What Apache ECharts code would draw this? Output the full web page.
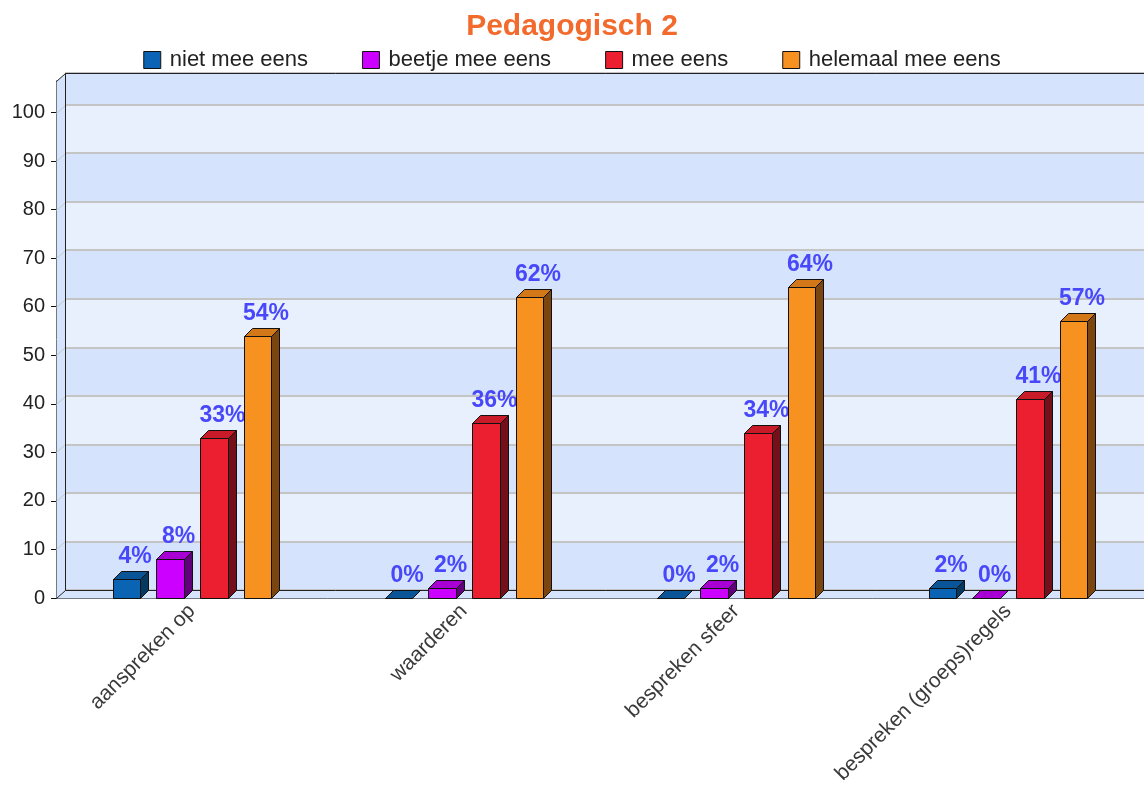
<!DOCTYPE html>
<html>
<head>
<meta charset="utf-8">
<script src="https://cdn.jsdelivr.net/npm/echarts@6/dist/echarts.min.js"></script>
<style>
  html, body { margin: 0; padding: 0; background: #fff; }
  #chart { width: 1144px; height: 794px; }
</style>
</head>
<body>
<div id="chart"></div>
<script>
const categories = ["aanspreken op", "waarderen", "bespreken sfeer", "bespreken (groeps)regels"];
const seriesNames = ["niet mee eens", "beetje mee eens", "mee eens", "helemaal mee eens"];
const nietMeeEens = [4, 0, 0, 2];
const beetjeMeeEens = [8, 2, 2, 0];
const meeEens = [33, 36, 34, 41];
const helemaalMeeEens = [54, 62, 64, 57];
const yTicks = [0, 10, 20, 30, 40, 50, 60, 70, 80, 90, 100];

const seriesValues = [nietMeeEens, beetjeMeeEens, meeEens, helemaalMeeEens];
// front, top, side colours per series
const palette = [
    { front: "#0b63b3", top: "#0a5598", side: "#06395f" },
    { front: "#cc00ff", top: "#a800d4", side: "#62007c" },
    { front: "#ec1f31", top: "#c81a29", side: "#73101a" },
    { front: "#f7911f", top: "#d27818", side: "#7a4511" }
];

const FONT = "Liberation Sans";
const DX = 9, DY = 8;       // wall depth
const BDX = 8, BDY = 8;     // bar depth
const Y_MAX = 106.5;

const chart = echarts.init(document.getElementById("chart"));

function renderWalls(params, api) {
    const cs = params.coordSys;
    const x = cs.x + 0.5, y = cs.y + 0.5, w = cs.width + 40, h = cs.height;
    const children = [
        { type: "polygon", shape: { points: [[x, y + h], [x + DX, y + h - DY], [x + DX, y - DY], [x, y]] },
          style: { fill: "#d5e4fc" } },
        { type: "polygon", shape: { points: [[x, y + h], [x + DX, y + h - DY], [x + w, y + h - DY], [x + w, y + h]] },
          style: { fill: "#d5e4fc" } }
    ];
    yTicks.forEach(v => {
        if (v === 0) return;
        const yy = Math.round(api.coord([0, v])[1]) + 0.5;
        children.push({ type: "line", shape: { x1: x, y1: yy, x2: x + DX, y2: yy - DY },
            style: { stroke: "#c8c8c8", lineWidth: 1 } });
    });
    const edges = [
        [x + DX, y - DY, x + DX, y + h - DY],
        [x + DX, y - DY, x + w, y - DY],
        [x + DX, y + h - DY, x + w, y + h - DY],
        [x, y, x + DX, y - DY],
        [x, y + h, x + DX, y + h - DY]
    ];
    edges.forEach(e => children.push({
        type: "line", shape: { x1: e[0], y1: e[1], x2: e[2], y2: e[3] },
        style: { stroke: "#222", lineWidth: 1 }
    }));
    return { type: "group", children };
}

function makeBarRenderer(k) {
    const c = palette[k];
    return function (params, api) {
        const cat = api.value(0), val = api.value(1);
        const band = api.size([1, 0])[0];
        const base = api.coord([cat, 0]);
        const top = api.coord([cat, val]);
        const pitch = band * 0.161, w = band * 0.101;
        const cx = base[0] + (k - 1.5) * pitch;
        const x0 = Math.round(cx - w / 2) + 0.5, x1 = Math.round(cx + w / 2) + 0.5;
        const yb = Math.round(base[1]) + 0.5, yt = Math.round(top[1]) + 0.5;
        const stroke = { stroke: "#111", lineWidth: 1 };
        return {
            type: "group",
            children: [
                { type: "polygon", shape: { points: [[x1, yt], [x1 + BDX, yt - BDY], [x1 + BDX, yb - BDY], [x1, yb]] },
                  style: Object.assign({ fill: c.side }, stroke) },
                { type: "polygon", shape: { points: [[x0, yt], [x0 + BDX, yt - BDY], [x1 + BDX, yt - BDY], [x1, yt]] },
                  style: Object.assign({ fill: c.top }, stroke) },
                { type: "rect", shape: { x: x0, y: yt, width: x1 - x0, height: yb - yt },
                  style: Object.assign({ fill: c.front }, stroke) },
                { type: "text", x: (x0 + x1) / 2 + BDX, y: yt - BDY - 3,
                  style: { text: val + "%", fill: "#4848fa", font: "bold 23px '" + FONT + "'",
                           textAlign: "center", textVerticalAlign: "bottom" } }
            ]
        };
    };
}

const series = [
    {
        type: "custom", name: "walls", xAxisIndex: 0, yAxisIndex: 0, z: 1,
        renderItem: renderWalls, data: [[0, 0]], silent: true
    }
];
seriesNames.forEach((name, k) => {
    series.push({
        type: "custom", name: name, xAxisIndex: 0, yAxisIndex: 0, z: 3,
        itemStyle: { color: palette[k].front },
        renderItem: makeBarRenderer(k),
        data: seriesValues[k].map((v, i) => [i, v])
    });
});

const option = {
    animation: false,
    title: {
        text: "Pedagogisch 2",
        left: "center",
        top: 7,
        textStyle: { color: "#f26a2c", fontSize: 30, fontWeight: "bold", fontFamily: FONT }
    },
    legend: {
        data: seriesNames,
        top: 44,
        left: "center",
        icon: "rect",
        itemWidth: 17,
        itemHeight: 17,
        itemGap: 54,
        itemStyle: { borderColor: "#111", borderWidth: 1 },
        textStyle: { fontSize: 22, color: "#222", fontFamily: FONT, padding: [0, 0, 0, 4] }
    },
    grid: [
        { left: 56, top: 81, right: -3, bottom: 196 },
        { left: 65, top: 73, right: -12, bottom: 204 }
    ],
    xAxis: [
        {
            type: "category", gridIndex: 0, data: categories,
            axisLine: { lineStyle: { color: "#111" } },
            axisTick: { alignWithLabel: true, length: 5, lineStyle: { color: "#111" } },
            axisLabel: { rotate: 45, fontSize: 21, color: "#3a3a3a", fontFamily: FONT, margin: 10 }
        },
        {
            type: "category", gridIndex: 1, data: categories, show: false
        }
    ],
    yAxis: [
        {
            type: "value", gridIndex: 0, min: 0, max: Y_MAX, interval: 10,
            axisLine: { show: true, lineStyle: { color: "#111" } },
            axisTick: { show: true, length: 5, lineStyle: { color: "#111" } },
            splitLine: { show: false },
            axisLabel: {
                fontSize: 20, color: "#222", fontFamily: FONT, margin: 11, showMaxLabel: false,
                formatter: v => (yTicks.indexOf(v) >= 0 ? String(v) : "")
            }
        },
        {
            type: "value", gridIndex: 1, min: 0, max: Y_MAX, interval: 10,
            axisLine: { show: false }, axisTick: { show: false }, axisLabel: { show: false },
            splitLine: { show: true, lineStyle: { color: "#c4c4c4", width: 2 } },
            splitArea: { show: true, areaStyle: { color: ["#d5e4fc", "#e8f0fe"] } }
        }
    ],
    series: series
};

chart.setOption(option);
</script>
</body>
</html>
